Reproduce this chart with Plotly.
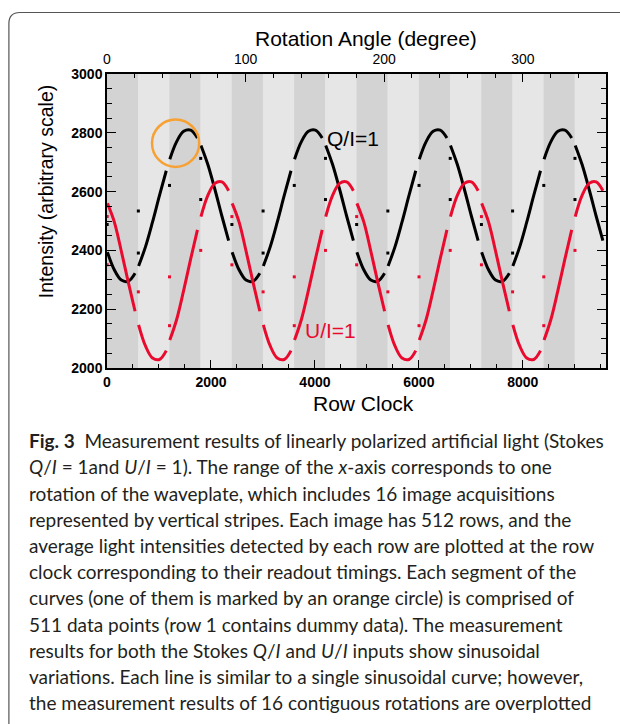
import plotly.graph_objects as go

# ---------------- data ----------------
stripe_starts = [0, 600, 1200, 1800, 2400, 3000, 3600, 4200,
                 4800, 5400, 6000, 6600, 7200, 7800, 8400, 9000]
seg_offsets = [8, 140, 275, 410, 540]

q_segments = [
    [2394, 2334, 2299, 2295, 2322], [2347, 2412, 2496, 2587, 2671],
    [2710, 2770, 2805, 2809, 2782], [2757, 2692, 2608, 2517, 2433],
    [2394, 2334, 2299, 2295, 2322], [2347, 2412, 2496, 2587, 2671],
    [2710, 2770, 2805, 2809, 2782], [2757, 2692, 2608, 2517, 2433],
    [2394, 2334, 2299, 2295, 2322], [2347, 2412, 2496, 2587, 2671],
    [2710, 2770, 2805, 2809, 2782], [2757, 2692, 2608, 2517, 2433],
    [2394, 2334, 2299, 2295, 2322], [2347, 2412, 2496, 2587, 2671],
    [2710, 2770, 2805, 2809, 2782], [2757, 2692, 2608, 2517, 2433],
]
u_segments = [
    [2560, 2497, 2398, 2291, 2193], [2147, 2075, 2034, 2029, 2059],
    [2095, 2165, 2264, 2371, 2470], [2515, 2587, 2628, 2633, 2603],
    [2560, 2497, 2398, 2291, 2193], [2147, 2075, 2034, 2029, 2059],
    [2095, 2165, 2264, 2371, 2470], [2515, 2587, 2628, 2633, 2603],
    [2560, 2497, 2398, 2291, 2193], [2147, 2075, 2034, 2029, 2059],
    [2095, 2165, 2264, 2371, 2470], [2515, 2587, 2628, 2633, 2603],
    [2560, 2497, 2398, 2291, 2193], [2147, 2075, 2034, 2029, 2059],
    [2095, 2165, 2264, 2371, 2470], [2515, 2587, 2628, 2633, 2603],
]
# dummy (row 1) points
q_dot_x = [0, 600, 600, 1200, 1800, 1800,
           2400, 3000, 3000, 3600, 4200, 4200,
           4800, 5400, 5400, 6000, 6600, 6600,
           7200, 7800, 7800, 8400, 9000, 9000]
q_dot_y = [2488, 2534, 2391, 2621, 2713, 2573,
           2488, 2534, 2391, 2621, 2713, 2573,
           2488, 2534, 2391, 2621, 2713, 2573,
           2488, 2534, 2391, 2621, 2713, 2573]
u_dot_x = [0, 0, 600, 1200, 1200, 1800,
           2400, 2400, 3000, 3600, 3600, 4200,
           4800, 4800, 5400, 6000, 6000, 6600,
           7200, 7200, 7800, 8400, 8400, 9000]
u_dot_y = [2515, 2351, 2259, 2310, 2144, 2400,
           2515, 2351, 2259, 2310, 2144, 2400,
           2515, 2351, 2259, 2310, 2144, 2400,
           2515, 2351, 2259, 2310, 2144, 2400]

x_ticks = [0, 2000, 4000, 6000, 8000]
y_ticks = [2000, 2200, 2400, 2600, 2800, 3000]
angle_ticks = [0, 100, 200, 300]
stripe_width = 600

caption_lines = [
    "<b>Fig. 3</b>&nbsp; Measurement results of linearly polarized artificial light (Stokes",
    "<i>Q</i>/<i>I</i> = 1and <i>U</i>/<i>I</i> = 1). The range of the <i>x</i>-axis corresponds to one",
    "rotation of the waveplate, which includes 16 image acquisitions",
    "represented by vertical stripes. Each image has 512 rows, and the",
    "average light intensities detected by each row are plotted at the row",
    "clock corresponding to their readout timings. Each segment of the",
    "curves (one of them is marked by an orange circle) is comprised of",
    "511 data points (row 1 contains dummy data). The measurement",
    "results for both the Stokes <i>Q</i>/<i>I</i> and <i>U</i>/<i>I</i> inputs show sinusoidal",
    "variations. Each line is similar to a single sinusoidal curve; however,",
    "the measurement results of 16 contiguous rotations are overplotted",
]

# ---------------- layout geometry ----------------
W, H = 620, 724
L, R, T, B = 107, 12, 74, 356
PW = W - L - R
PH = H - T - B


def px(xpix):
    return (xpix - L) / PW


def py(ypix):
    return (T + PH - ypix) / PH


def build(segs):
    xs, ys = [], []
    for s, vals in zip(stripe_starts, segs):
        for o, v in zip(seg_offsets, vals):
            xs.append(s + o)
            ys.append(v)
        xs.append(None)
        ys.append(None)
    return xs, ys


RED = "#ea0a2e"
fig = go.Figure()
qx, qy = build(q_segments)
ux, uy = build(u_segments)
fig.add_trace(go.Scatter(x=qx, y=qy, mode="lines", line=dict(color="black", width=3, shape="spline"),
                         connectgaps=False, showlegend=False, hoverinfo="skip"))
fig.add_trace(go.Scatter(x=ux, y=uy, mode="lines", line=dict(color=RED, width=3, shape="spline"),
                         connectgaps=False, showlegend=False, hoverinfo="skip"))
fig.add_trace(go.Scatter(x=[v + 3 for v in q_dot_x], y=q_dot_y, mode="markers",
                         marker=dict(color="black", size=3, symbol="square"), showlegend=False))
fig.add_trace(go.Scatter(x=[v + 3 for v in u_dot_x], y=u_dot_y, mode="markers",
                         marker=dict(color=RED, size=3, symbol="square"), showlegend=False))
# invisible trace for top axis
fig.add_trace(go.Scatter(x=[0, 360], y=[2000, 2000], xaxis="x2", mode="markers",
                         marker=dict(opacity=0), showlegend=False, hoverinfo="skip"))

shapes = []
for i, s in enumerate(stripe_starts):
    shapes.append(dict(type="rect", xref="x", yref="paper", x0=s, x1=s + stripe_width, y0=0, y1=1,
                       fillcolor="#d3d3d3" if i % 2 == 0 else "#e6e6e6", line=dict(width=0), layer="below"))
# orange circle
shapes.append(dict(type="circle", xref="x", yref="y", x0=866, x1=1774, y0=2684, y1=2845,
                   line=dict(color="#f7a134", width=2.5)))
# figure frame (rounded box)
r = 11
x0p, y0p, y1p = 8.5, 12.5, 735
path = (f"M {px(W + 5)},{py(y0p)} L {px(x0p + r)},{py(y0p)} "
        f"Q {px(x0p)},{py(y0p)} {px(x0p)},{py(y0p + r)} "
        f"L {px(x0p)},{py(y1p - r)} Q {px(x0p)},{py(y1p)} {px(x0p + r)},{py(y1p)}")
shapes.append(dict(type="path", xref="paper", yref="paper", path=path,
                   line=dict(color="#555555", width=1.2)))

ann = []
ann.append(dict(text="Q/I=1", x=4200, y=2781, xref="x", yref="y", xanchor="left", yanchor="middle",
                showarrow=False, font=dict(family="Liberation Sans", size=21, color="black")))
ann.append(dict(text="U/I=1", x=3770, y=2126, xref="x", yref="y", xanchor="left", yanchor="middle",
                showarrow=False, font=dict(family="Liberation Sans", size=21, color=RED)))
ann.append(dict(text="Rotation Angle (degree)", x=px(367), y=py(39), xref="paper", yref="paper",
                xanchor="center", yanchor="middle", showarrow=False,
                font=dict(family="Liberation Sans", size=21, color="black")))
ann.append(dict(text="Row Clock", x=px(365), y=py(403), xref="paper", yref="paper",
                xanchor="center", yanchor="middle", showarrow=False,
                font=dict(family="Liberation Sans", size=21, color="black")))
ann.append(dict(text="Intensity (arbitrary scale)", x=px(46), y=py(192), xref="paper", yref="paper",
                xanchor="center", yanchor="middle", showarrow=False, textangle=-90,
                font=dict(family="Liberation Sans", size=19.5, color="black")))
cap_y = [440, 466, 493, 519, 545, 571, 597, 624, 650, 676, 702]
for t, yy in zip(caption_lines, cap_y):
    ann.append(dict(text=t, x=px(27), y=py(yy), xref="paper", yref="paper", xanchor="left",
                    yanchor="middle", showarrow=False,
                    font=dict(family="Lato", size=19, color="#231f20")))

tickfont_b = dict(family="Liberation Sans", size=14, color="black", weight="bold")
fig.update_layout(
    width=W, height=H, margin=dict(l=L, r=R, t=T, b=B, pad=0),
    paper_bgcolor="white", plot_bgcolor="#e6e6e6",
    shapes=shapes, annotations=ann, showlegend=False,
    xaxis=dict(range=[0, 9600], tickvals=x_ticks, ticks="inside", ticklen=8, tickwidth=1.2,
               tickcolor="black", showline=True, linecolor="black", linewidth=1.5, mirror=False,
               showgrid=False, zeroline=False, tickfont=tickfont_b,
               minor=dict(dtick=500, tick0=0, ticks="inside", ticklen=4, tickcolor="black", showgrid=False)),
    xaxis2=dict(range=[0, 360], overlaying="x", side="top", tickvals=angle_ticks, ticks="inside",
                ticklen=8, tickwidth=1.2, tickcolor="black", showline=True, linecolor="black",
                linewidth=1.5, showgrid=False, zeroline=False, ticklabelstandoff=3,
                tickfont=dict(family="Liberation Sans", size=14, color="black"),
                minor=dict(dtick=20, tick0=0, ticks="inside", ticklen=4, tickcolor="black", showgrid=False)),
    yaxis=dict(range=[2000, 3000], tickvals=y_ticks, ticks="inside", ticklen=9, tickwidth=1.2,
               tickcolor="black", showline=True, linecolor="black", linewidth=1.5, mirror="ticks",
               showgrid=False, zeroline=False, tickfont=tickfont_b,
               minor=dict(dtick=50, tick0=2000, ticks="inside", ticklen=5, tickcolor="black", showgrid=False)),
)
fig.write_html("out.html", config={"displayModeBar": False},
               post_script="document.body.style.margin='0';document.body.style.padding='0';")
